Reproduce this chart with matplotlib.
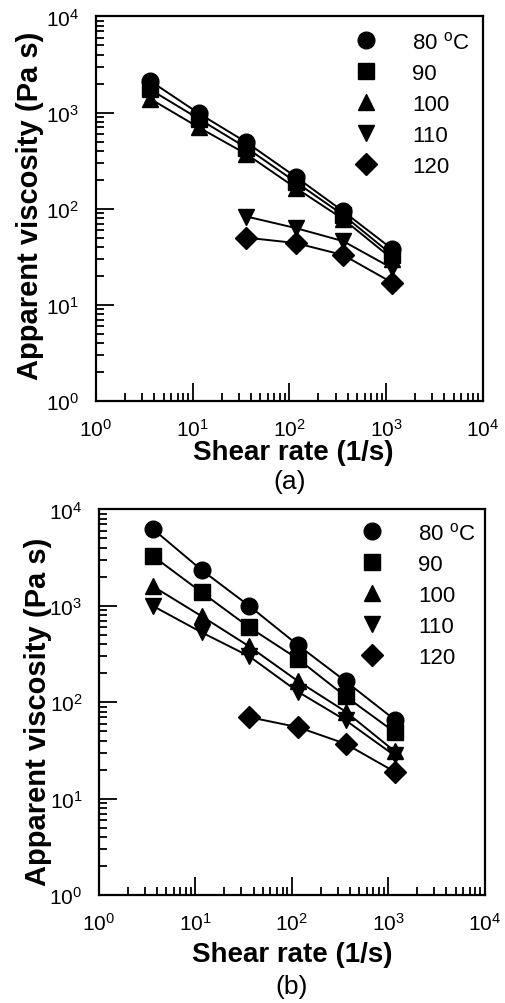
import matplotlib.pyplot as plt
from matplotlib.ticker import LogLocator, NullFormatter
import numpy as np

shear = [3.6, 11.6, 36, 116, 360, 1160]
labels = ['80 $^{\\mathregular{o}}$C', '90', '100', '110', '120']
markers = ['o', 's', '^', 'v', 'D']

# panel (a)
visc_a = [
    [2150, 980, 490, 215, 94, 38],
    [1750, 860, 430, 190, 86, 33],
    [1400, 700, 370, 165, 78, 30],
    [None, None, 83, 63, 46, 24],
    [None, None, 50, 44, 33, 17],
]
# panel (b)
visc_b = [
    [6300, 2350, 1000, 390, 165, 66],
    [3300, 1380, 600, 280, 115, 49],
    [1600, 780, 380, 165, 80, 31],
    [1000, 530, 300, 128, 65, 28],
    [None, None, 70, 55, 37, 19],
]

plt.rcParams['font.family'] = ['Liberation Sans', 'DejaVu Sans']

fig = plt.figure(figsize=(5.05, 10.04), dpi=100)
ax_a = fig.add_axes([0.190, 0.5996, 0.766, 0.383])
ax_b = fig.add_axes([0.196, 0.1076, 0.764, 0.384])


def draw(ax, data, caption, ylab_xy, xlab_xy, cap_y, leg_anchor):
    for vals, m, lab in zip(data, markers, labels):
        x = [s for s, v in zip(shear, vals) if v is not None]
        y = [v for v in vals if v is not None]
        ms = 11 if m == 'D' else 12
        ax.plot(x, y, color='black', lw=1.4, marker=m, ms=ms, label=lab)
    ax.set_xscale('log')
    ax.set_yscale('log')
    ax.set_xlim(1, 1e4)
    ax.set_ylim(1, 1e4)
    ax.xaxis.set_minor_locator(LogLocator(base=10, subs=np.arange(2, 10), numticks=20))
    ax.yaxis.set_minor_locator(LogLocator(base=10, subs=np.arange(2, 10), numticks=20))
    ax.xaxis.set_minor_formatter(NullFormatter())
    ax.yaxis.set_minor_formatter(NullFormatter())
    ax.tick_params(which='both', direction='in', top=False, right=False, labelsize=15, width=1.3)
    ax.tick_params(which='major', length=13, pad=12)
    ax.tick_params(which='minor', length=6)
    for sp in ax.spines.values():
        sp.set_linewidth(1.6)
    ax.set_xlabel('Shear rate (1/s)', fontsize=20, fontweight='bold')
    ax.set_ylabel('Apparent viscosity (Pa s)', fontsize=21, fontweight='bold')
    ax.yaxis.set_label_coords(*ylab_xy)
    ax.xaxis.set_label_coords(*xlab_xy)
    ax.text(0.5, cap_y, caption, transform=ax.transAxes, ha='center', va='center', fontsize=19)
    leg = ax.legend(loc='upper right', bbox_to_anchor=leg_anchor, frameon=False, fontsize=16,
                    handlelength=1.0, handletextpad=1.6, labelspacing=0.45, borderaxespad=0.0)
    for h in leg.legend_handles:
        h.set_linestyle('None')


draw(ax_a, visc_a, '(a)', (-0.135, 0.51), (0.509, -0.1), -0.208, (0.99, 0.985))
draw(ax_b, visc_b, '(b)', (-0.122, 0.477), (0.5, -0.12), -0.236, (1.0, 0.99))

fig.savefig('out.png', dpi=100)
